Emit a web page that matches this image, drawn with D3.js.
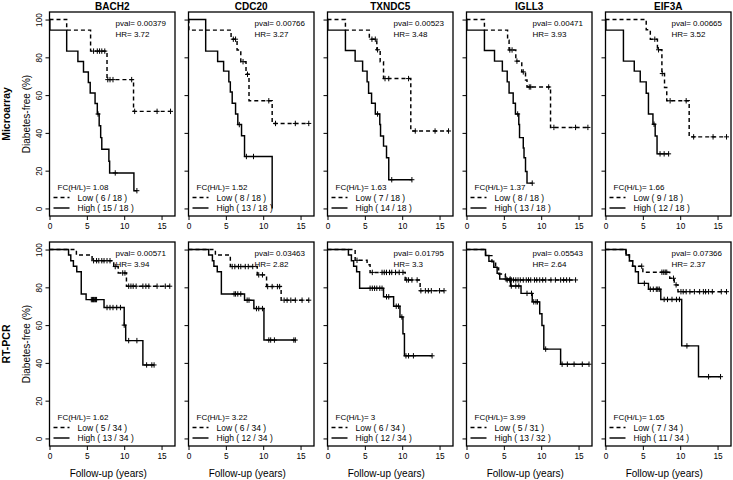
<!DOCTYPE html>
<html><head><meta charset="utf-8">
<script src="https://cdn.jsdelivr.net/npm/d3@7"></script>
<style>body{margin:0;background:#fff}svg{display:block}text{font-family:"Liberation Sans",Arial,sans-serif;fill:#000}</style>
</head><body><svg id="c" width="733" height="480"></svg>
<script>
const genes = ["BACH2","CDC20","TXNDC5","IGLL3","EIF3A"];
const rowNames = ["Microarray","RT-PCR"];
const xTicks = [0,5,10,15];
const yTicks = [0,20,40,60,80,100];
const xLabel = "Follow-up (years)";
const yLabel = "Diabetes-free (%)";

const microPval = ["0.00379","0.00766","0.00523","0.00471","0.00665"];
const microHR = ["3.72","3.27","3.48","3.93","3.52"];
const microFC = ["1.08","1.52","1.63","1.37","1.66"];
const microLowN = ["6 / 18","8 / 18","7 / 18","8 / 18","9 / 18"];
const microHighN = ["15 / 18","13 / 18","14 / 18","13 / 18","12 / 18"];
const rtPval = ["0.00571","0.03463","0.01795","0.05543","0.07366"];
const rtHR = ["3.94","2.82","3.3","2.64","2.37"];
const rtFC = ["1.62","3.22","3","3.99","1.65"];
const rtLowN = ["5 / 34","6 / 34","6 / 34","5 / 31","7 / 34"];
const rtHighN = ["13 / 34","12 / 34","12 / 34","13 / 32","11 / 34"];

// Kaplan-Meier steps [time, survival after drop] and censor times, per gene
const microLowSteps = [
  [[2.3,94.4],[5.5,83.3],[7.7,68.2],[11.25,51.4]],
  [[0.05,94.4],[5.7,89.6],[6.5,83.9],[7.0,77.7],[7.7,71.0],[8.1,57.0],[11.2,45.0]],
  [[2.4,94.4],[5.6,89.6],[6.6,84.0],[7.05,77.7],[7.5,68.75],[11.15,41.0]],
  [[2.4,94.4],[5.5,89.0],[5.7,83.9],[6.6,78.0],[7.4,72.3],[7.9,68.0],[8.1,64.3],[11.25,42.9]],
  [[5.45,94.6],[6.0,89.6],[6.95,84.0],[7.55,71.4],[7.9,64.0],[8.2,57.0],[11.2,37.9]]
];
const microLowCensor = [
  [5.9,6.4,6.7,7.0,7.4,7.8,8.1,8.5,11.0,11.4,14.4,16.2],
  [6.0,6.3,7.3,7.9,10.75,11.65,14.3,16.1],
  [5.95,6.4,6.7,7.7,8.2,10.85,11.75,14.4,16.2],
  [5.8,6.1,6.75,7.6,8.4,8.6,11.0,11.7,14.6,16.25],
  [6.6,7.1,7.6,8.65,10.8,11.8,14.4,16.2]
];
const microHighSteps = [
  [[0.05,94.4],[2.3,83.3],[3.8,77.8],[4.55,72.2],[5.2,66.7],[5.45,61.1],[6.1,55.6],[6.4,50.0],[6.65,43.8],[6.85,37.5],[7.0,31.3],[7.95,25.0],[8.05,18.8],[11.3,9.4]],
  [[2.3,83.3],[3.9,77.8],[4.7,72.7],[5.4,67.0],[5.6,61.6],[5.85,55.7],[6.3,50.0],[6.6,44.4],[7.1,38.5],[7.5,27.5],[11.2,0]],
  [[0.05,94.4],[2.4,83.6],[3.7,78.0],[4.7,72.7],[5.3,67.0],[5.5,61.0],[5.9,55.7],[6.4,50.0],[7.0,44.4],[7.1,38.4],[7.5,33.0],[7.9,26.8],[8.2,15.2]],
  [[0.05,94.4],[2.4,83.6],[3.75,78.0],[4.8,72.7],[5.45,67.0],[5.7,61.1],[6.25,55.7],[6.55,50.0],[7.0,44.4],[7.1,37.5],[7.6,32.0],[7.7,26.8],[7.9,19.6],[8.1,13.4]],
  [[0.05,94.4],[2.4,78.0],[3.85,72.7],[4.65,67.0],[5.45,61.0],[5.75,50.0],[6.35,44.6],[6.65,38.4],[6.9,28.9]]
];
const microHighCensor = [
  [6.5,8.8,11.7],
  [6.8,7.75,8.7],
  [6.7,8.6,11.3],
  [6.85,8.8],
  [6.5,7.3,7.85,8.45]
];
const rtLowSteps = [
  [[3.6,97.1],[5.7,94.1],[8.6,91.0],[9.2,87.6],[10.3,80.6]],
  [[3.6,97.1],[5.6,91.0],[9.2,86.6],[10.45,80.4],[12.4,73.2]],
  [[3.7,94.3],[5.3,92.0],[5.7,87.9],[10.4,83.9],[12.4,78.2]],
  [[2.55,96.8],[3.4,93.5],[3.9,90.3],[4.3,87.1],[5.2,83.9]],
  [[2.75,97.1],[3.2,94.1],[3.6,91.2],[5.0,88.0],[8.6,84.8],[9.2,81.3],[9.7,77.7]]
];
const rtLowCensor = [
  [5.9,6.3,6.6,7.0,7.3,7.7,8.1,8.8,9.8,10.1,10.6,10.9,11.2,11.6,12.5,12.9,13.3,14.4,15.5,16.1],
  [5.85,6.2,6.7,7.0,7.6,8.0,8.6,9.4,9.9,10.6,11.2,11.9,12.2,12.8,13.2,13.7,14.3,15.2,16.1],
  [3.95,6.0,7.3,7.6,7.9,8.3,8.6,9.1,9.6,10.1,10.6,10.85,11.3,12.0,12.5,13.1,13.5,13.9,15.0,15.6],
  [5.45,5.8,6.0,6.3,6.6,6.9,7.2,7.6,8.0,8.3,8.6,9.1,9.4,9.8,10.2,10.6,11.3,11.9,12.6,13.0,13.4,13.8,14.6],
  [4.85,7.55,7.8,8.0,8.2,9.1,9.45,10.1,10.4,10.8,11.3,11.9,12.6,13.1,13.4,13.8,14.3,15.5,16.2]
];
const rtHighSteps = [
  [[2.55,97.1],[2.85,94.1],[3.2,91.2],[3.65,88.2],[4.25,76.5],[4.9,73.5],[7.3,69.3],[10.0,60.0],[10.2,51.8],[12.5,38.9]],
  [[2.7,97.1],[3.2,94.1],[3.4,91.2],[3.85,88.2],[4.4,76.5],[7.5,73.2],[8.75,68.75],[10.1,52.1]],
  [[2.8,97.1],[3.2,94.1],[3.5,91.2],[3.9,88.2],[4.3,79.5],[7.5,75.0],[8.85,70.0],[9.7,64.3],[10.1,55.4],[10.3,43.75]],
  [[2.55,96.9],[3.0,93.8],[3.65,90.6],[4.1,87.5],[4.45,84.4],[5.9,80.7],[7.3,76.8],[8.8,72.3],[9.8,66.0],[10.1,59.8],[10.35,47.3],[12.6,39.3]],
  [[2.75,97.1],[3.2,94.1],[3.65,91.2],[4.0,88.2],[4.4,82.1],[5.75,79.0],[7.4,73.6],[10.2,49.0],[12.45,32.7]]
];
const rtHighCensor = [
  [5.6,5.75,5.9,6.0,6.15,6.3,7.7,8.1,8.5,9.0,9.5,10.0,10.6,11.7,13.0,13.7,14.0],
  [6.1,6.3,6.6,7.0,7.85,8.1,9.1,9.4,9.9,10.75,11.0,11.5,14.1,14.3],
  [5.7,6.0,6.3,6.6,7.0,7.3,7.9,8.2,9.2,9.5,9.95,10.5,10.85,11.5,14.0],
  [5.3,5.85,6.0,6.6,7.0,8.1,8.7,9.0,9.3,9.5,10.6,12.8,13.5,14.4,15.5,16.4],
  [5.2,6.0,6.4,6.8,7.0,7.2,7.85,8.3,8.9,9.5,9.9,10.9,13.8,15.4]
];

const rowsData = [
  {pval: microPval, hr: microHR, fc: microFC, lowN: microLowN, highN: microHighN,
   lowSteps: microLowSteps, lowCens: microLowCensor, highSteps: microHighSteps, highCens: microHighCensor},
  {pval: rtPval, hr: rtHR, fc: rtFC, lowN: rtLowN, highN: rtHighN,
   lowSteps: rtLowSteps, lowCens: rtLowCensor, highSteps: rtHighSteps, highCens: rtHighCensor}
];

const svg = d3.select("#c");
const panelW = 125.5, pitch = 139, left0 = 49.5;
const rowTop = [12, 242], panelH = 204;
const FONT = "Liberation Sans, Arial, sans-serif";

function survAt(steps, t){ let s = 100; for (const [tt,v] of steps) if (tt <= t) s = v; return s; }

rowsData.forEach((rd, r) => {
  const top = rowTop[r], bottom = top + panelH;
  const y = d3.scaleLinear().domain([-4, 104]).range([bottom, top]);
  svg.append("text").attr("transform", `translate(9.5,${(top+bottom)/2}) rotate(-90)`)
    .attr("text-anchor","middle").attr("font-size",10.5).attr("font-weight","bold").text(rowNames[r]);
  svg.append("text").attr("transform", `translate(30,${(top+bottom)/2}) rotate(-90)`)
    .attr("text-anchor","middle").attr("font-size",10).text(yLabel);

  genes.forEach((g, i) => {
    const L = left0 + pitch * i;
    const x = d3.scaleLinear().domain([0, 16.8]).range([L, L + panelW]);
    const gp = svg.append("g");

    const ax = gp.append("g").attr("transform", `translate(0,${bottom})`)
      .call(d3.axisBottom(x).tickValues(xTicks).tickSize(4).tickPadding(3).tickSizeOuter(0));
    ax.select(".domain").remove();
    ax.selectAll("text").attr("font-size",8.3).attr("font-family",FONT);
    ax.selectAll(".tick line").attr("stroke-width",1);

    const ay = gp.append("g").attr("transform", `translate(${L},0)`)
      .call(d3.axisLeft(y).tickValues(yTicks).tickSize(4).tickSizeOuter(0)
        .tickFormat(i === 0 ? d3.format("d") : () => ""));
    ay.select(".domain").remove();
    ay.selectAll(".tick line").attr("stroke-width",1);
    ay.selectAll(".tick text").attr("font-size",8.3).attr("font-family",FONT)
      .attr("text-anchor","middle").attr("x",0).attr("y",0).attr("dy",0)
      .attr("transform","translate(-8,0) rotate(-90)");

    gp.append("rect").attr("x", L).attr("y", top).attr("width", panelW).attr("height", panelH)
      .attr("fill","none").attr("stroke","#000").attr("stroke-width",1.3);

    if (r === 0) {
      gp.append("text").attr("x", L + panelW/2).attr("y", 9.5).attr("text-anchor","middle")
        .attr("font-size",10).attr("font-weight","bold").text(g);
    } else {
      gp.append("text").attr("x", L + panelW/2 - 4).attr("y", 477).attr("text-anchor","middle")
        .attr("font-size",10).text(xLabel);
    }

    const curves = [
      {steps: rd.highSteps[i], cens: rd.highCens[i], dash: null},
      {steps: rd.lowSteps[i], cens: rd.lowCens[i], dash: "4,3"}
    ];
    curves.forEach(c => {
      const pts = [[0,100]]; let s = 100;
      c.steps.forEach(([t,v]) => { pts.push([t,s]); pts.push([t,v]); s = v; });
      const lastT = c.steps.length ? c.steps[c.steps.length-1][0] : 0;
      const end = Math.max(lastT, d3.max(c.cens) || 0);
      pts.push([end, s]);
      gp.append("path").attr("d", d3.line().x(d => x(d[0])).y(d => y(d[1]))(pts))
        .attr("fill","none").attr("stroke","#000").attr("stroke-width",1.45)
        .attr("stroke-dasharray", c.dash);
      c.cens.forEach(t => {
        const cx = x(t), cy = y(survAt(c.steps, t));
        gp.append("path").attr("d", `M${cx-2.5},${cy}H${cx+2.5}M${cx},${cy-2.7}V${cy+2.7}`)
          .attr("stroke","#000").attr("stroke-width",1).attr("fill","none");
      });
    });

    gp.append("text").attr("x", L + 66).attr("y", top + 14).attr("font-size",8).text("pval= " + rd.pval[i]);
    gp.append("text").attr("x", L + 66).attr("y", top + 25).attr("font-size",8).text("HR= " + rd.hr[i]);
    gp.append("text").attr("x", L + 8).attr("y", bottom - 26).attr("font-size",8).text("FC(H/L)= " + rd.fc[i]);
    const legend = [["Low", rd.lowN[i], "4,3", bottom - 15.5], ["High", rd.highN[i], null, bottom - 5]];
    legend.forEach(([lab, n, dash, by]) => {
      gp.append("line").attr("x1", L + 4).attr("x2", L + 20).attr("y1", by - 3).attr("y2", by - 3)
        .attr("stroke","#000").attr("stroke-width",1.45).attr("stroke-dasharray", dash);
      gp.append("text").attr("x", L + 28).attr("y", by).attr("font-size",8.5).text(`${lab} ( ${n} )`);
    });
  });
});
</script></body></html>
